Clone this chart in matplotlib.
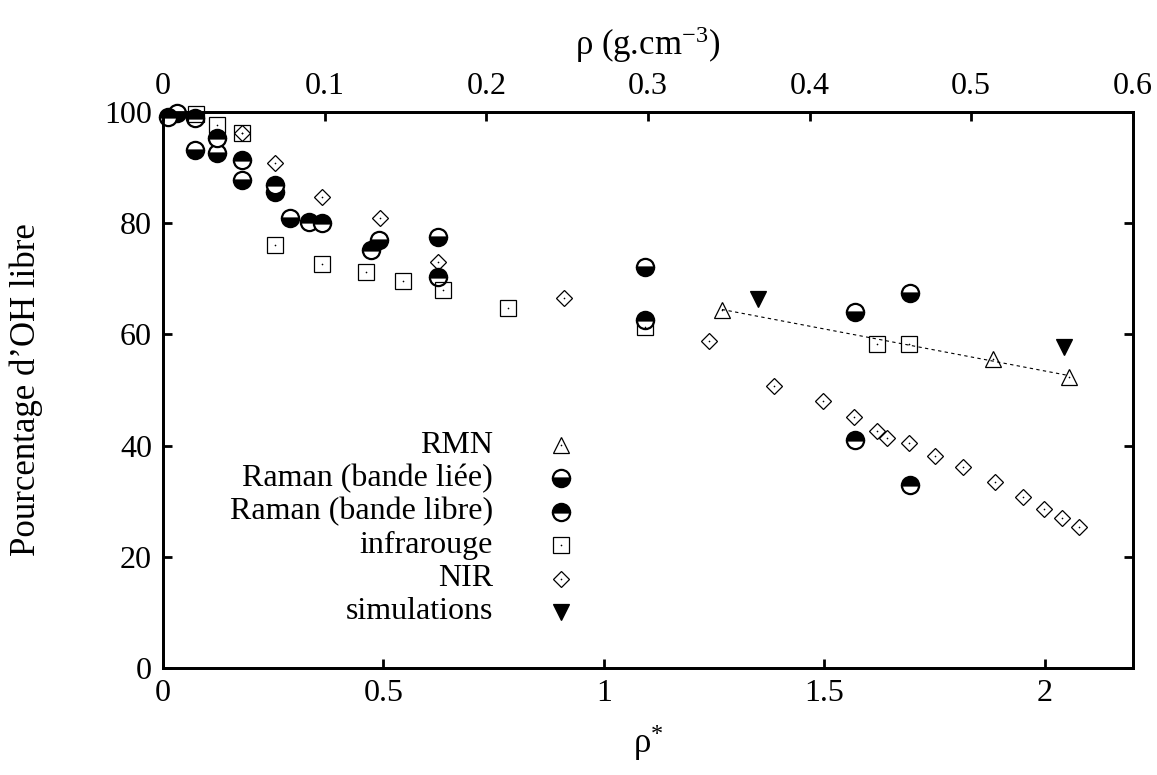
import numpy as np
import matplotlib
matplotlib.use("Agg")
import matplotlib.pyplot as plt

plt.rcParams["font.family"] = ["Liberation Serif", "DejaVu Serif"]
plt.rcParams["mathtext.fontset"] = "custom"
plt.rcParams["mathtext.rm"] = "Liberation Serif"
plt.rcParams["mathtext.it"] = "Liberation Serif:italic"
plt.rcParams["font.size"] = 23

# reduced density rho* and percentage of free OH
rmn_x = [1.268, 1.882, 2.055]
rmn_y = [64.4, 55.6, 52.3]

liee_x = [0.032, 0.073, 0.122, 0.179, 0.254, 0.288, 0.490, 0.624, 1.093, 1.569, 1.694]
liee_y = [99.8, 93.2, 92.6, 87.8, 85.6, 80.9, 77.0, 77.5, 72.1, 64.0, 67.4]

libre_x = [0.011, 0.073, 0.122, 0.179, 0.254, 0.331, 0.361, 0.472, 0.624, 1.093, 1.569, 1.694]
libre_y = [99.1, 98.9, 95.3, 91.4, 86.9, 80.2, 80.0, 75.2, 70.3, 62.6, 41.0, 32.9]

ir_x = [0.075, 0.122, 0.179, 0.254, 0.361, 0.460, 0.544, 0.635, 0.782, 1.093, 1.619, 1.692]
ir_y = [99.7, 97.7, 96.2, 76.1, 72.7, 71.2, 69.6, 68.0, 64.7, 61.3, 58.3, 58.3]

nir_x = [0.179, 0.254, 0.361, 0.492, 0.624, 0.909, 1.238, 1.386, 1.497, 1.567,
         1.619, 1.642, 1.692, 1.751, 1.814, 1.887, 1.950, 1.998, 2.039, 2.078]
nir_y = [96.2, 90.8, 84.7, 80.9, 73.0, 66.5, 58.8, 50.7, 48.0, 45.1,
         42.6, 41.4, 40.5, 38.1, 36.2, 33.5, 30.8, 28.6, 27.0, 25.4]

sim_x = [1.350, 2.044]
sim_y = [66.4, 57.7]

labels = ["RMN", "Raman (bande liée)", "Raman (bande libre)", "infrarouge", "NIR", "simulations"]

fig = plt.figure(figsize=(11.57, 7.75), dpi=100)
ax = fig.add_axes([0.141, 0.138, 0.838, 0.7175])

# marker styles per series
styles = [
    dict(marker="^", ms=12, mfc="none", mec="black", mew=0.9),
    dict(marker="o", ms=12.4, mfc="black", mfcalt="white", fillstyle="bottom", mec="black", mew=1.6),
    dict(marker="o", ms=12.4, mfc="black", mfcalt="white", fillstyle="top", mec="black", mew=1.6),
    dict(marker="s", ms=11.5, mfc="none", mec="black", mew=0.9),
    dict(marker="D", ms=8.5, mfc="none", mec="black", mew=0.9),
    dict(marker="v", ms=12, mfc="black", mec="black", mew=0.9),
]
centre_dot = [True, False, False, True, True, False]
series = [(rmn_x, rmn_y), (liee_x, liee_y), (libre_x, libre_y),
          (ir_x, ir_y), (nir_x, nir_y), (sim_x, sim_y)]

# linear fit through the NMR points
coef = np.polyfit(rmn_x, rmn_y, 1)
fx = np.array([min(rmn_x), max(rmn_x)])
ax.plot(fx, np.polyval(coef, fx), color="black", lw=0.8, ls=(0, (3, 3)), zorder=2)

for (xs, ys), st, dot in zip(series, styles, centre_dot):
    ax.plot(xs, ys, ls="none", clip_on=False, zorder=3, **st)
    if dot:
        ax.plot(xs, ys, ls="none", marker="o", ms=1.2, mfc="black", mec="none",
                clip_on=False, zorder=4)

# key: text right-aligned, symbol on the right
key_text_x, key_mark_x = 0.340, 0.410
key_y0, key_dy = 0.401, 0.060
for i, (lab, st, dot) in enumerate(zip(labels, styles, centre_dot)):
    yy = key_y0 - i * key_dy
    ax.text(key_text_x, yy, lab, transform=ax.transAxes, ha="right", va="center")
    ax.plot([key_mark_x], [yy], ls="none", transform=ax.transAxes, clip_on=False, **st)
    if dot:
        ax.plot([key_mark_x], [yy], ls="none", marker="o", ms=1.2, mfc="black",
                mec="none", transform=ax.transAxes, clip_on=False)

ax.set_xlim(0, 2.2)
ax.set_ylim(0, 100)
ax.set_xticks([0, 0.5, 1, 1.5, 2])
ax.set_xticklabels(["0", "0.5", "1", "1.5", "2"])
ax.set_yticks([0, 20, 40, 60, 80, 100])
ax.tick_params(axis="both", direction="in", length=6.5, width=2, pad=8)
ax.tick_params(axis="y", right=True)
ax.tick_params(axis="x", top=False)
for s in ax.spines.values():
    s.set_linewidth(2)

ax.set_xlabel(r"ρ$^{*}$", labelpad=10, fontsize=25)
ax.set_ylabel("Pourcentage d’OH libre", labelpad=44, fontsize=25)

# density in g/cm3 on the top axis
ax2 = ax.twiny()
ax2.set_xlim(0, 0.6)
ax2.set_xticks([0, 0.1, 0.2, 0.3, 0.4, 0.5, 0.6])
ax2.set_xticklabels(["0", "0.1", "0.2", "0.3", "0.4", "0.5", "0.6"])
ax2.tick_params(axis="x", direction="in", length=6.5, width=2, pad=8)
ax2.set_xlabel(r"ρ (g.cm$^{-3}$)", labelpad=12, fontsize=25)
for s in ax2.spines.values():
    s.set_linewidth(2)

fig.savefig("out.png", dpi=100)
